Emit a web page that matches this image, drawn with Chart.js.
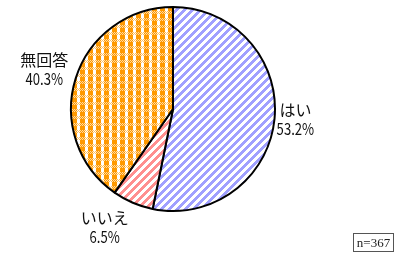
<!DOCTYPE html>
<html><head><meta charset="utf-8">
<script src="https://cdn.jsdelivr.net/npm/chart.js@4/dist/chart.umd.min.js"></script>
<style>
html,body{margin:0;padding:0;background:#fff;width:394px;height:257px;overflow:hidden;}
#wrap{position:relative;width:394px;height:257px;}
#note{position:absolute;left:353px;top:233px;width:39px;height:17px;border:1px solid #555;font:13px "Liberation Serif","DejaVu Serif",serif;color:#222;line-height:17px;text-align:center;box-sizing:content-box;}
</style></head>
<body><div id="wrap"><canvas id="c" width="394" height="257"></canvas><div id="note">n=367</div></div>
<script>
const categories = ["はい", "いいえ", "無回答"];
const values = [53.2, 6.5, 40.3];
const valueLabels = ["53.2%", "6.5%", "40.3%"];
// label anchor offsets relative to pie center, in units of radius
const labelOffsets = [[1.2, 0.1], [-0.67, 1.16], [-1.262, -0.39]];

function stripePattern(color, n, w) {
  const c = document.createElement('canvas'); c.width = n; c.height = n;
  const g = c.getContext('2d');
  g.fillStyle = '#fff'; g.fillRect(0,0,n,n);
  for (let x=0;x<n;x++) for (let y=0;y<n;y++) {
    const d = (x + y) % n;
    if (d < w) { g.fillStyle = color; g.fillRect(x,y,1,1); }
  }
  return g.createPattern(c, 'repeat');
}
function plaidPattern() {
  const w = 8, h = 7;
  const c = document.createElement('canvas'); c.width = w; c.height = h;
  const g = c.getContext('2d');
  g.fillStyle = '#fff'; g.fillRect(0,0,w,h);
  for (let x=0;x<w;x++) for (let y=0;y<h;y++) {
    let col;
    if (x < 5 && y < 4) col = '#ff9900';
    else if (y >= 4 && x < 5) col = ((x + y) % 2) ? '#ff9900' : '#ffd9a0';
    else if (y >= 4) col = ((x + y) % 2) ? '#ffc266' : '#fff';
    else col = '#fff';
    g.fillStyle = col; g.fillRect(x,y,1,1);
  }
  return g.createPattern(c, 'repeat');
}

const labelPlugin = {
  id: 'outerLabels',
  afterDatasetsDraw(chart) {
    const ctx = chart.ctx;
    const meta = chart.getDatasetMeta(0);
    ctx.save();
    ctx.fillStyle = '#111';
    ctx.textAlign = 'center';
    ctx.textBaseline = 'middle';
    meta.data.forEach((arc, i) => {
      const r = arc.outerRadius;
      const x = arc.x + labelOffsets[i][0] * r;
      const y = arc.y + labelOffsets[i][1] * r;
      ctx.font = '16px "Noto Sans CJK JP", sans-serif';
      ctx.fillText(categories[i], x, y - 9);
      ctx.save();
      ctx.translate(x, y + 10);
      ctx.scale(0.82, 1);
      ctx.font = '16px "Noto Sans CJK JP", sans-serif';
      ctx.fillText(valueLabels[i], 0, 0);
      ctx.restore();
    });
    ctx.restore();
  }
};

new Chart(document.getElementById('c'), {
  type: 'pie',
  data: {
    labels: categories,
    datasets: [{
      data: values,
      backgroundColor: [stripePattern('#a0a0ff', 8, 4), stripePattern('#ff8f8f', 8, 4), plaidPattern()],
      borderColor: '#000',
      borderWidth: 2
    }]
  },
  options: {
    responsive: false,
    animation: false,
    layout: { padding: { left: 70, right: 118, top: 6, bottom: 45 } },
    plugins: { legend: { display: false }, tooltip: { enabled: false } }
  },
  plugins: [labelPlugin]
});
</script>
</body></html>
